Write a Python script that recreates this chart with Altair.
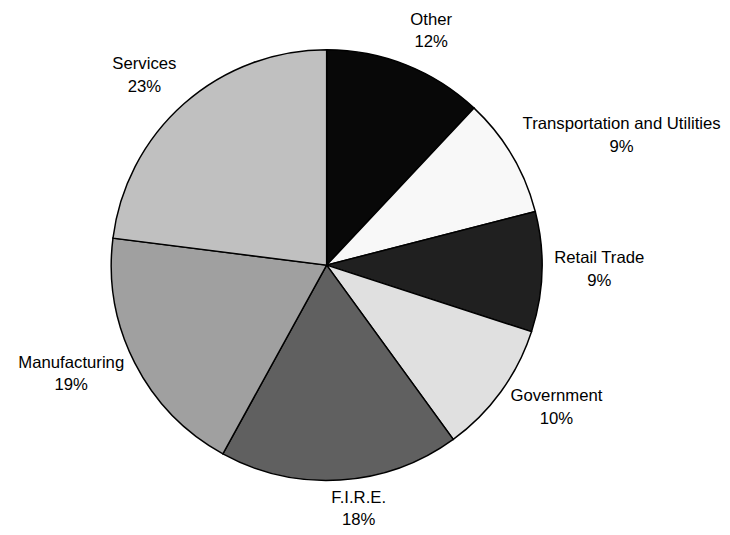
import altair as alt
import pandas as pd
import numpy as np

categories = ["Other", "Transportation and Utilities", "Retail Trade", "Government",
              "F.I.R.E.", "Manufacturing", "Services"]
shares = [12, 9, 9, 10, 18, 19, 23]
grays = ["#080808", "#f8f8f8", "#202020", "#e0e0e0", "#606060", "#a0a0a0", "#c0c0c0"]

FONT_SIZE = 17
# Arial / Liberation Sans advance widths (per 1000 em)
CW = {" ": 278, "%": 889, ".": 278, "A": 667, "E": 667, "F": 611, "G": 778, "I": 278,
      "M": 833, "O": 778, "R": 722, "S": 667, "T": 611, "U": 722, "a": 556, "c": 500,
      "d": 556, "e": 556, "f": 278, "g": 556, "h": 556, "i": 222, "l": 222, "m": 833,
      "n": 556, "o": 556, "p": 556, "r": 333, "s": 500, "t": 278, "u": 556, "v": 500}


def text_w(s):
    return sum(CW.get(ch, 556) for ch in s) / 1000 * FONT_SIZE


df = pd.DataFrame({"cat": categories, "share": shares, "order": list(range(len(categories)))})
df["label"] = [f"{c}\n{s}%" for c, s in zip(categories, shares)]
vals = np.array(shares, dtype=float)
mid = (np.cumsum(vals) - vals / 2) / vals.sum() * 2 * np.pi
hw = np.array([max(text_w(c), text_w(f"{s}%")) / 2 for c, s in zip(categories, shares)])
sn, cs = np.sin(mid), np.cos(mid)
ax = 231 * sn + hw * np.clip(10 * sn, -1, 1)
ay = -3.5 - 252 * cs
df["lr"] = np.hypot(ax, ay)
df["lt"] = np.arctan2(ax, -ay)

pie = alt.Chart(df).mark_arc(outerRadius=219, stroke="black", strokeWidth=1.5).encode(
    theta=alt.Theta("share:Q", stack=True),
    order=alt.Order("order:Q"),
    color=alt.Color("cat:N", scale=alt.Scale(domain=categories, range=grays), legend=None),
)

text = alt.Chart(df).mark_text(
    font="Liberation Sans", fontSize=FONT_SIZE, lineBreak="\n", lineHeight=23,
    align="center", baseline="middle", color="black", dy=-11.5
).encode(
    text="label:N",
    theta=alt.Theta("lt:Q", scale=None),
    radius=alt.Radius("lr:Q", scale=None),
)

chart = (pie + text).properties(
    width=636, height=514,
    padding={"left": 6, "top": 0, "right": 84, "bottom": 13},
    autosize="none",
).configure_view(strokeWidth=0)

chart.save("out.html", embed_options={"renderer": "svg", "actions": False})
